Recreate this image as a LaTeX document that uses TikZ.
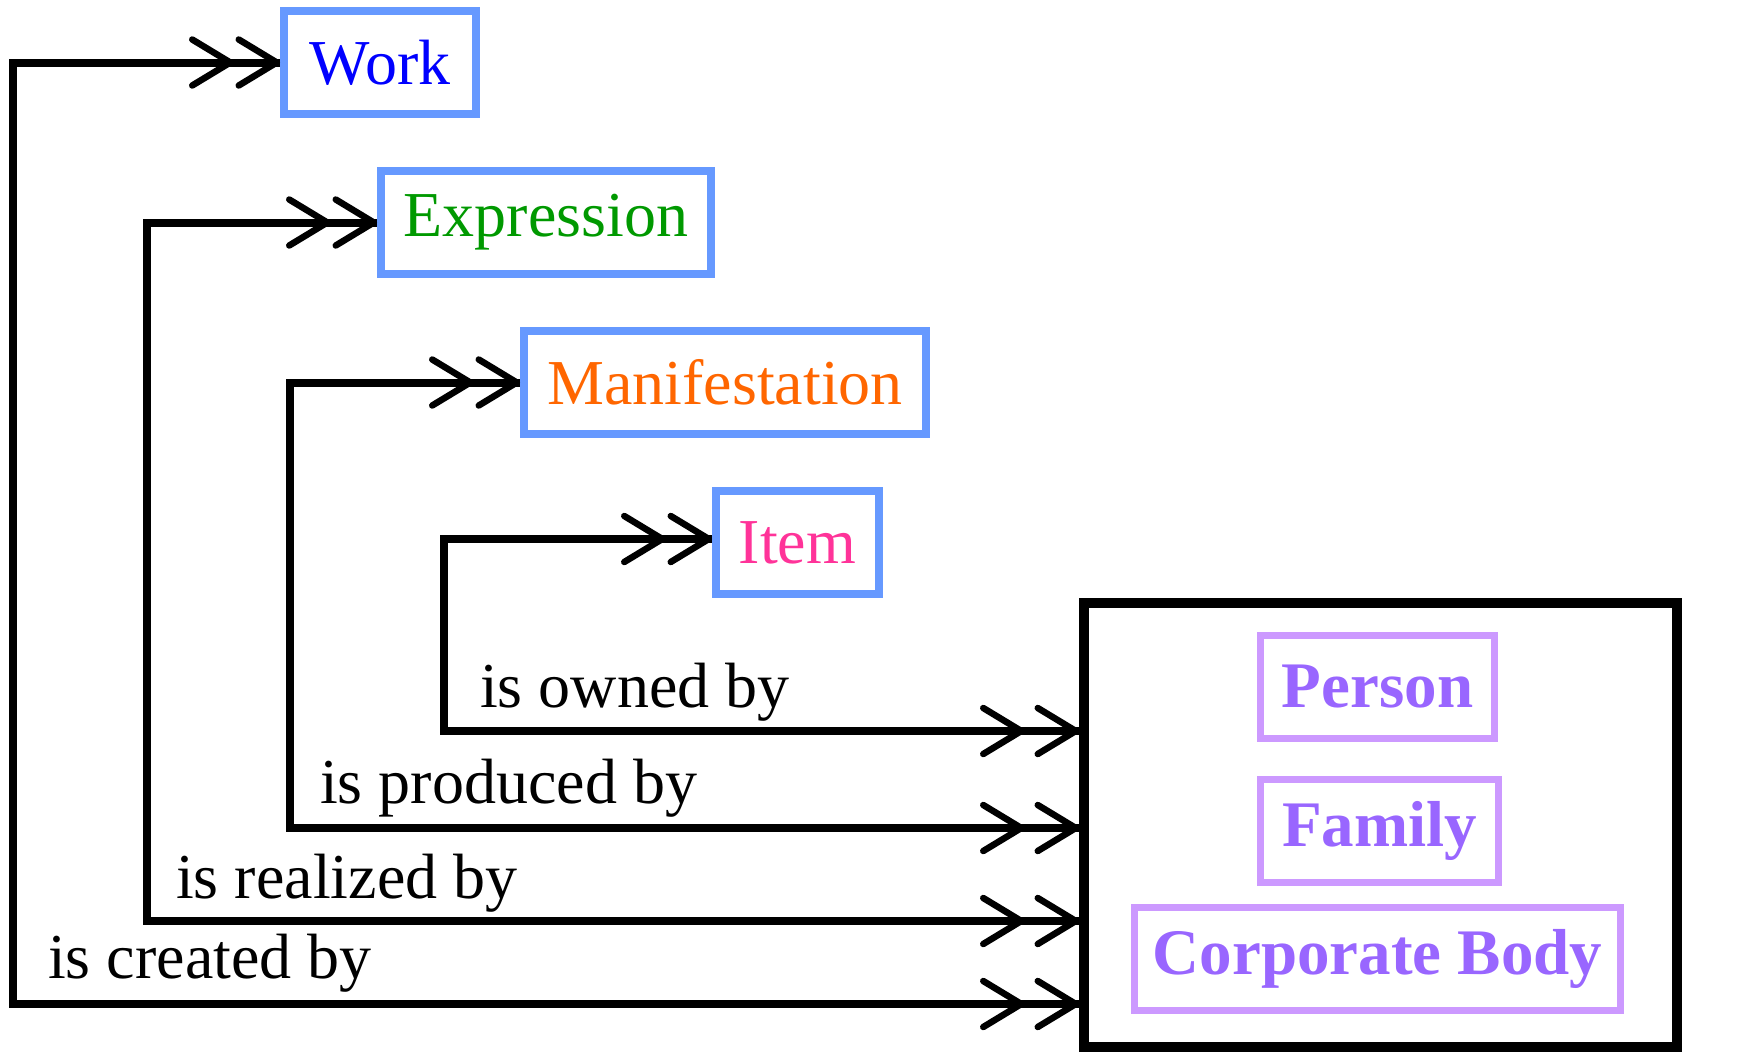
\documentclass[tikz,border=0pt]{standalone}
\usepackage{fontspec}
\setmainfont{Liberation Serif}
\usetikzlibrary{arrows.meta}
\definecolor{boxblue}{HTML}{6699FF}
\definecolor{workc}{HTML}{0000FF}
\definecolor{exprc}{HTML}{009900}
\definecolor{manc}{HTML}{FF6600}
\definecolor{itemc}{HTML}{FF3399}
\definecolor{agentborder}{HTML}{CC99FF}
\definecolor{agenttext}{HTML}{9966FF}
\begin{document}
\begin{tikzpicture}[x=1pt,y=-1pt,
  font=\fontsize{64}{70}\selectfont,
  entity/.style={draw=boxblue, line width=8pt, minimum height=103pt, inner sep=0pt},
  agent/.style={draw=agentborder, line width=7pt, minimum height=103pt, inner sep=0pt,
    text=agenttext, font=\fontsize{65}{70}\selectfont\bfseries},
  rel/.style={anchor=base west, inner sep=0pt},
  conn/.style={line width=8pt, preaction={draw,line width=8pt,-},
    {Straight Barb[length=38pt,width=46pt,line width=6.5pt,round]Straight Barb[length=38pt,width=46pt,line width=6.5pt,round,sep=10pt]}-{Straight Barb[length=38pt,width=46pt,line width=6.5pt,round,sep=2pt]Straight Barb[length=38pt,width=46pt,line width=6.5pt,round]}}
]
\useasboundingbox (0,0) rectangle (1750,1052);

% entity boxes
\node[entity, minimum width=192pt, text=workc] (work) at (380,62.5) {Work};
\node[entity, minimum width=330pt, text=exprc] (expr) at (546,222.5) {Expression};
\node[entity, minimum width=402pt, text=manc] (manif) at (725,382.5) {Manifestation};
\node[entity, minimum width=163pt, text=itemc] (item) at (797.5,542.5) {Item};

% agents container
\node[draw=black, line width=10pt, minimum width=593pt, minimum height=444pt, inner sep=0pt] (agents) at (1380.5,825) {};
\node[agent, minimum width=234pt] (person) at (1377.5,687) {Person};
\node[agent, minimum width=238pt] (family) at (1379.5,830.5) {Family};
\node[agent, minimum width=486pt] (corp) at (1377.5,958.5) {Corporate Body};

% bend points
\coordinate (cb) at (12.5,1004);
\coordinate (ct) at (12.5,62.5);
\coordinate (rb) at (147,921);
\coordinate (rt) at (147,222.5);
\coordinate (pb) at (290,828);
\coordinate (pt) at (290,382.5);
\coordinate (ob) at (444,731);
\coordinate (ot) at (444,539);

% connectors
\draw[conn] (agents.west |- cb) -- (cb) -- (ct) -- (work.west);
\draw[conn] (agents.west |- rb) -- (rb) -- (rt) -- (expr.west);
\draw[conn] (agents.west |- pb) -- (pb) -- (pt) -- (manif.west);
\draw[conn] (agents.west |- ob) -- (ob) -- (ot) -- (item.west |- ot);

% labels
\node[rel] (lown) at (480,707) {is owned by};
\node[rel] (lprod) at (320,803) {is produced by};
\node[rel] (lreal) at (176,898) {is realized by};
\node[rel] (lcrea) at (48,978) {is created by};
\end{tikzpicture}
\end{document}
